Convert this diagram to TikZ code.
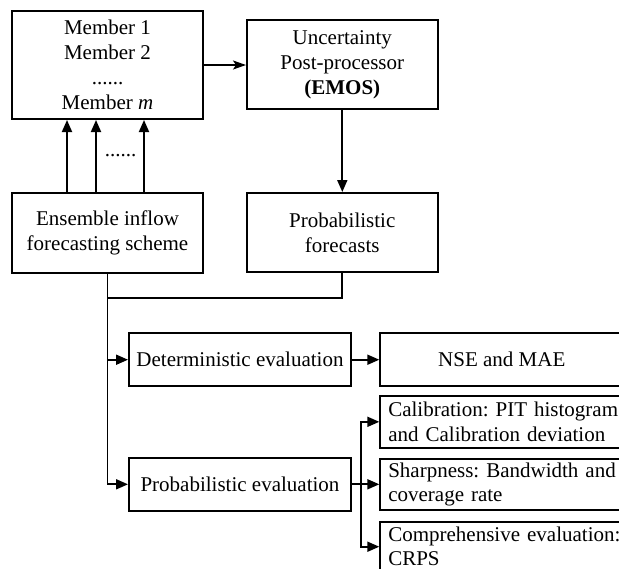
\documentclass[tikz,border=0pt]{standalone}
\usepackage{fontspec}
\setmainfont{Liberation Serif}
\usetikzlibrary{arrows.meta}
\begin{document}
\frenchspacing
\begin{tikzpicture}[x=0.5pt,y=-0.5pt,
  box/.style={draw,line width=1pt,inner sep=0pt,align=center,
    font=\fontsize{10.5}{12.4}\selectfont},
  lbox/.style={draw,line width=1pt,inner sep=0pt,anchor=west,
    text width=117pt,align=left,font=\fontsize{10.5}{12.1}\selectfont},
  conn/.style={line width=0.9pt},
  arr/.style={conn,-{Triangle[length=6pt,width=5pt]}},
  sarr/.style={conn,-{Stealth[length=6.5pt,width=4.5pt,inset=1.5pt]}},
  txt/.style={inner sep=0pt,font=\fontsize{10.5}{12.4}\selectfont}]
\useasboundingbox (0,0) rectangle (619,568);
\clip (0,0) rectangle (619,568);
\node[box,minimum width=95.5pt,minimum height=54pt] (mem) at (107.5,65)
  {Member 1\\Member 2\\......\\Member \textit{m}};
\node[box,minimum width=95.3pt,minimum height=44.5pt] (unc) at (342.3,64.5)
  {Uncertainty\\Post-processor\\\textbf{(EMOS)}};
\node[box,minimum width=95.5pt,minimum height=40pt] (ens) at (107.5,233)
  {Ensemble inflow\\forecasting scheme};
\node[box,minimum width=95.3pt,minimum height=39.5pt] (pf) at (342.3,232.5)
  {Probabilistic\\forecasts};
\node[box,minimum width=111pt,minimum height=26.3pt] (det) at (240,359.7)
  {Deterministic evaluation};
\node[box,minimum width=111pt,minimum height=26.3pt] (pe) at (240,484.3)
  {Probabilistic evaluation};
\node[box,minimum width=121.5pt,minimum height=26.3pt,anchor=west] (nse) at (379.3,359.7)
  {NSE and MAE};
\node[lbox,minimum height=25.8pt,inner xsep=4pt] (cal) at (379.3,421.8)
  {Calibration: PIT histogram\\and Calibration deviation};
\node[lbox,minimum height=25.4pt,inner xsep=4pt] (sha) at (379.3,484.7)
  {Sharpness: Bandwidth and\\coverage rate};
\node[lbox,minimum height=25pt,inner xsep=4pt] (com) at (379.3,546.7)
  {Comprehensive evaluation:\\CRPS};
\node[txt] (dots) at (120.5,155.5) {......};
% connectors
\draw[sarr] (mem.east) -- (mem.east -| unc.west);
\coordinate (a1) at (67,0);
\coordinate (a2) at (96,0);
\coordinate (a3) at (144,0);
\foreach \c in {a1,a2,a3}
  \draw[arr] (ens.north -| \c) -- (mem.south -| \c);
\draw[arr] (unc.south) -- (pf.north);
\coordinate (j) at (107.5,298);
\draw[conn] (ens.south) -- (j) -| (pf.south);
\draw[arr] (j) |- (det.west);
\draw[arr] (j) |- (pe.west);
\draw[arr] (det.east) -- (nse.west);
\coordinate (k) at (360.7,484.3);
\draw[arr] (pe.east) -- (pe.east -| sha.west);
\draw[arr] (k) |- (cal.west);
\draw[arr] (k) |- (com.west);
\end{tikzpicture}
\end{document}
